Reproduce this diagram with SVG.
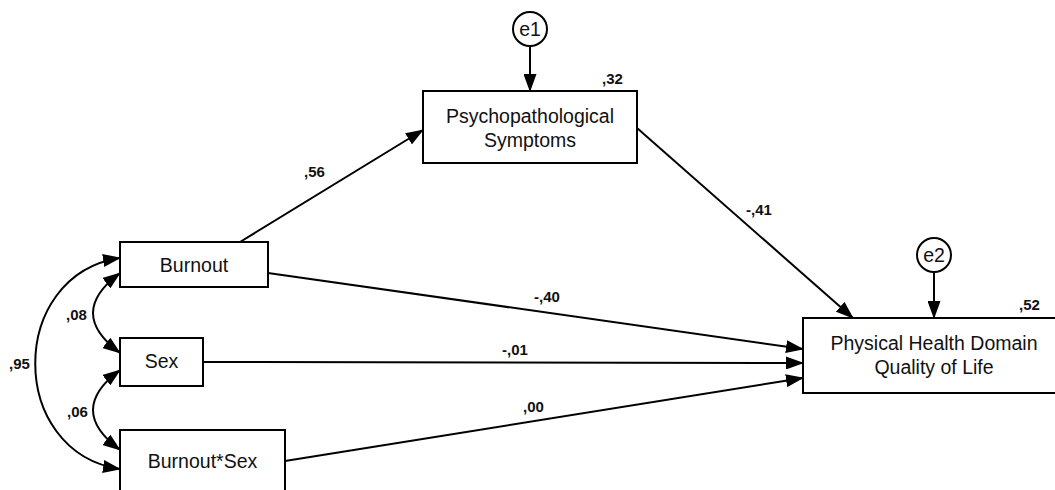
<svg xmlns="http://www.w3.org/2000/svg" width="1055" height="490" viewBox="0 0 1055 490">
<style>
.box{fill:#fff;stroke:#000;stroke-width:2}
.circ{fill:#fff;stroke:#000;stroke-width:2}
.nt{font-family:"Liberation Sans",Arial,sans-serif;font-size:19.5px;fill:#111;text-anchor:middle}
.lb{font-family:"Liberation Sans",Arial,sans-serif;font-size:15px;font-weight:bold;fill:#111}
.ln{fill:none;stroke:#000;stroke-width:2;marker-end:url(#ah)}
.cv{fill:none;stroke:#000;stroke-width:2;marker-start:url(#ah);marker-end:url(#ah)}
</style>
<defs>
<marker id="ah" markerUnits="userSpaceOnUse" markerWidth="18" markerHeight="13" refX="17" refY="6.5" orient="auto-start-reverse">
<path d="M0,0 L18,6.5 L0,13 z" fill="#000"/>
</marker>
</defs>
<rect width="1055" height="490" fill="#fff"/>
<g id="connectors">
<path class="ln" d="M240,242 L423,130"/>
<path class="ln" d="M637,128 L853,318"/>
<path class="ln" d="M530,46 L530,91"/>
<path class="ln" d="M934,272 L934,318"/>
<path class="ln" d="M268,273 L803,349"/>
<path class="ln" d="M203,362 L803,363"/>
<path class="ln" d="M285,461 L803,378"/>
<path class="cv" d="M120,258 C7,275 7,452 120,469"/>
<path class="cv" d="M120,273 C84,300 84,326 120,353"/>
<path class="cv" d="M120,370 C84,397 84,423 120,450"/>
</g>
<g id="labels">
<text class="lb" x="304" y="177">,56</text>
<text class="lb" x="746" y="215">-,41</text>
<text class="lb" x="534" y="302">-,40</text>
<text class="lb" x="502" y="355">-,01</text>
<text class="lb" x="523" y="412">,00</text>
<text class="lb" x="66" y="320">,08</text>
<text class="lb" x="9" y="369">,95</text>
<text class="lb" x="67" y="417">,06</text>
<text class="lb" x="602" y="84">,32</text>
<text class="lb" x="1019" y="310">,52</text>
</g>
<g id="e1">
<circle class="circ" cx="530" cy="29" r="17"/>
<text class="nt" x="530" y="36">e1</text>
</g>
<g id="e2">
<circle class="circ" cx="934" cy="255" r="17"/>
<text class="nt" x="934" y="262">e2</text>
</g>
<g id="psych">
<rect class="box" x="423" y="91" width="214" height="72"/>
<text class="nt" x="530" y="123">Psychopathological</text>
<text class="nt" x="530" y="147">Symptoms</text>
</g>
<g id="phys">
<rect class="box" x="803" y="318" width="262" height="75"/>
<text class="nt" x="934" y="350">Physical Health Domain</text>
<text class="nt" x="934" y="374">Quality of Life</text>
</g>
<g id="burnout">
<rect class="box" x="120" y="242" width="148" height="45"/>
<text class="nt" x="194" y="272">Burnout</text>
</g>
<g id="sex">
<rect class="box" x="120" y="338" width="83" height="48"/>
<text class="nt" x="161.5" y="368">Sex</text>
</g>
<g id="burnoutsex">
<rect class="box" x="120" y="430" width="165" height="70"/>
<text class="nt" x="202.5" y="468">Burnout*Sex</text>
</g>
</svg>
